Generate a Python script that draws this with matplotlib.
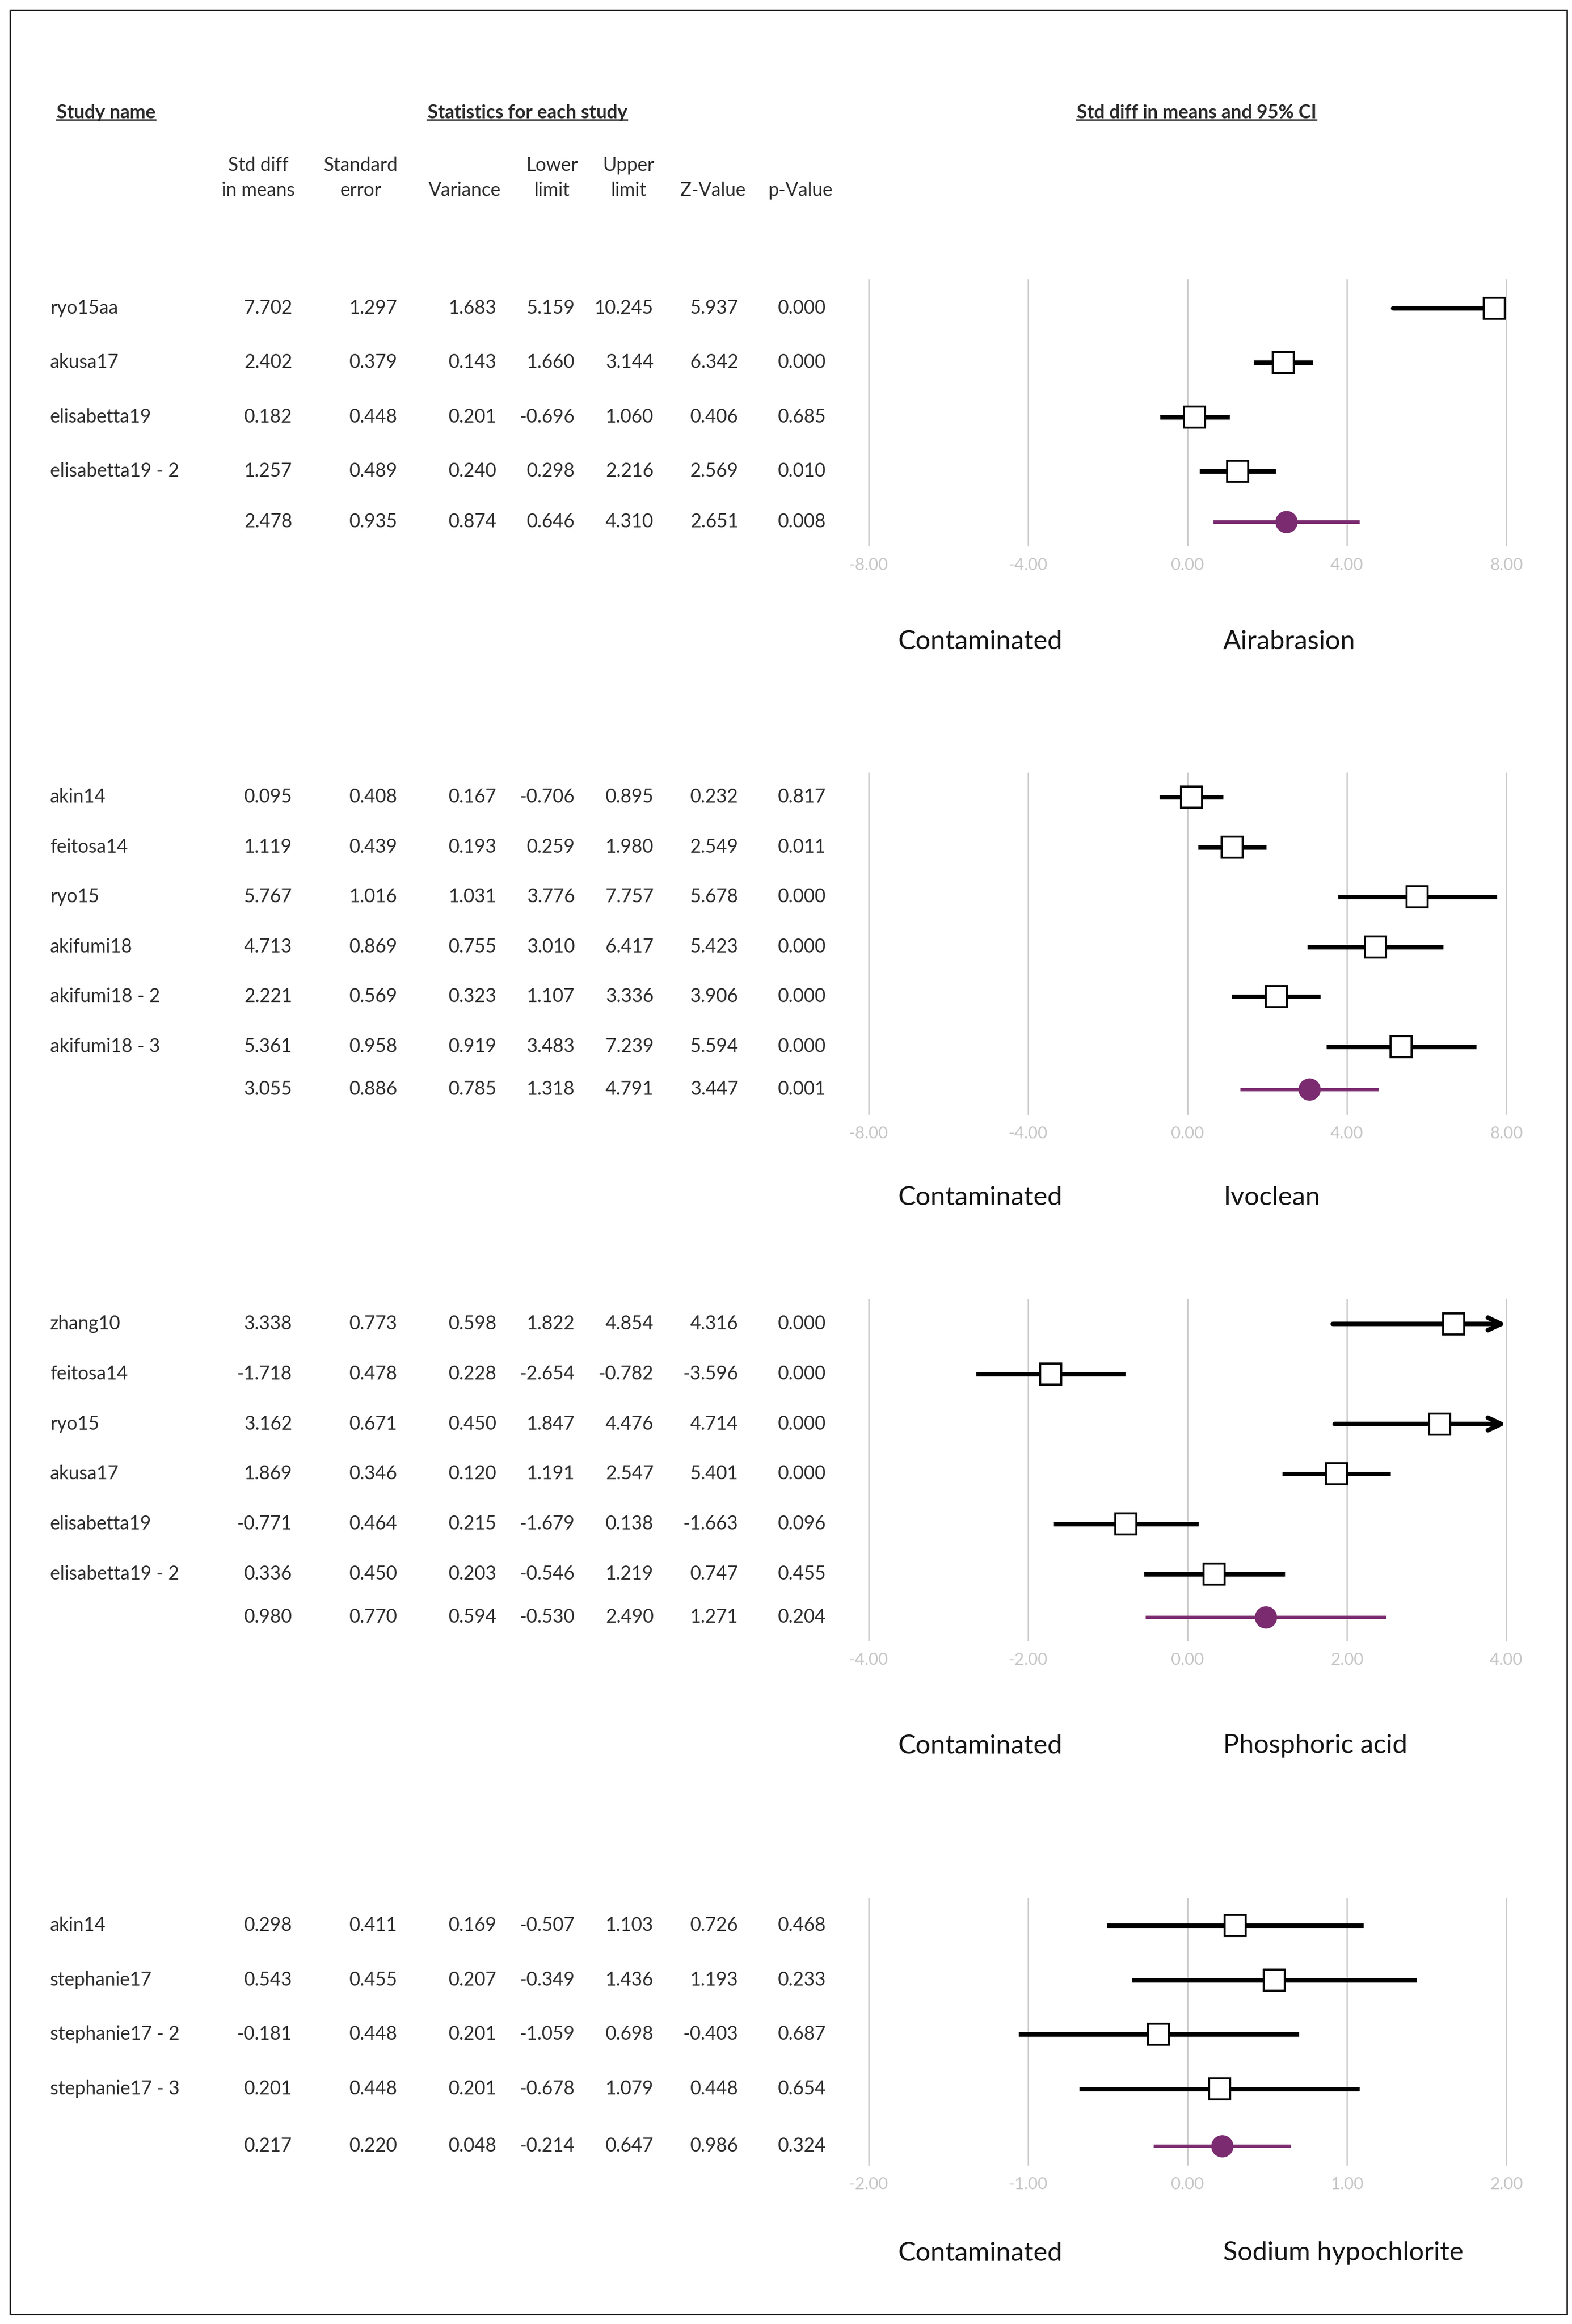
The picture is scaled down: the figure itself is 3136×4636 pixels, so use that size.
import numpy as np
import matplotlib
matplotlib.use("Agg")
import matplotlib.pyplot as plt
from matplotlib.lines import Line2D
from matplotlib.patches import Rectangle

plt.rcParams['font.family'] = ['Lato', 'DejaVu Sans']
plt.rcParams['axes.unicode_minus'] = False

# ---- data (last row of each stats table is the pooled estimate) ----
col_top = ["Std diff", "Standard", "", "Lower", "Upper", "", ""]
col_bottom = ["in means", "error", "Variance", "limit", "limit", "Z-Value", "p-Value"]

airab_names = ["ryo15aa", "akusa17", "elisabetta19", "elisabetta19 - 2"]
airab_stats = [
    [7.702, 1.297, 1.683, 5.159, 10.245, 5.937, 0.000],
    [2.402, 0.379, 0.143, 1.660, 3.144, 6.342, 0.000],
    [0.182, 0.448, 0.201, -0.696, 1.060, 0.406, 0.685],
    [1.257, 0.489, 0.240, 0.298, 2.216, 2.569, 0.010],
    [2.478, 0.935, 0.874, 0.646, 4.310, 2.651, 0.008],
]
airab_ticks = [-8, -4, 0, 4, 8]

ivo_names = ["akin14", "feitosa14", "ryo15", "akifumi18", "akifumi18 - 2", "akifumi18 - 3"]
ivo_stats = [
    [0.095, 0.408, 0.167, -0.706, 0.895, 0.232, 0.817],
    [1.119, 0.439, 0.193, 0.259, 1.980, 2.549, 0.011],
    [5.767, 1.016, 1.031, 3.776, 7.757, 5.678, 0.000],
    [4.713, 0.869, 0.755, 3.010, 6.417, 5.423, 0.000],
    [2.221, 0.569, 0.323, 1.107, 3.336, 3.906, 0.000],
    [5.361, 0.958, 0.919, 3.483, 7.239, 5.594, 0.000],
    [3.055, 0.886, 0.785, 1.318, 4.791, 3.447, 0.001],
]
ivo_ticks = [-8, -4, 0, 4, 8]

phos_names = ["zhang10", "feitosa14", "ryo15", "akusa17", "elisabetta19", "elisabetta19 - 2"]
phos_stats = [
    [3.338, 0.773, 0.598, 1.822, 4.854, 4.316, 0.000],
    [-1.718, 0.478, 0.228, -2.654, -0.782, -3.596, 0.000],
    [3.162, 0.671, 0.450, 1.847, 4.476, 4.714, 0.000],
    [1.869, 0.346, 0.120, 1.191, 2.547, 5.401, 0.000],
    [-0.771, 0.464, 0.215, -1.679, 0.138, -1.663, 0.096],
    [0.336, 0.450, 0.203, -0.546, 1.219, 0.747, 0.455],
    [0.980, 0.770, 0.594, -0.530, 2.490, 1.271, 0.204],
]
phos_ticks = [-4, -2, 0, 2, 4]

naocl_names = ["akin14", "stephanie17", "stephanie17 - 2", "stephanie17 - 3"]
naocl_stats = [
    [0.298, 0.411, 0.169, -0.507, 1.103, 0.726, 0.468],
    [0.543, 0.455, 0.207, -0.349, 1.436, 1.193, 0.233],
    [-0.181, 0.448, 0.201, -1.059, 0.698, -0.403, 0.687],
    [0.201, 0.448, 0.201, -0.678, 1.079, 0.448, 0.654],
    [0.217, 0.220, 0.048, -0.214, 0.647, 0.986, 0.324],
]
naocl_ticks = [-2, -1, 0, 1, 2]

# ---- layout (pixel positions in the 3136 x 4636 picture) ----
W, H, DPI = 3136, 4636, 100
PLOT_L, PLOT_R = 1733, 3005
name_x = 100
col_right = [583, 793, 991, 1147, 1304, 1473, 1648]
col_center = [515, 720, 927, 1101, 1254, 1422, 1597]

panels = [
    dict(names=airab_names, stats=airab_stats, ticks=airab_ticks, label="Airabrasion",
         row0=615, last=940, summ=1041, top=558, bottom=1088, lab_y=1280),
    dict(names=ivo_names, stats=ivo_stats, ticks=ivo_ticks, label="Ivoclean",
         row0=1590, last=2088, summ=2173, top=1542, bottom=2222, lab_y=2389),
    dict(names=phos_names, stats=phos_stats, ticks=phos_ticks, label="Phosphoric acid",
         row0=2641, last=3140, summ=3226, top=2592, bottom=3272, lab_y=3483),
    dict(names=naocl_names, stats=naocl_stats, ticks=naocl_ticks, label="Sodium hypochlorite",
         row0=3841, last=4167, summ=4281, top=3787, bottom=4318, lab_y=4495),
]

TXT = '#2e2e2e'
PURPLE = '#7b2b6f'
GRID = '#cbcbcb'
FS = 27
CI_LW = 6.5


def fx(px):
    return px / W


def fy(py):
    return 1 - py / H


fig = plt.figure(figsize=(W / DPI, H / DPI), dpi=DPI)
fig.patch.set_facecolor('white')

# headers
titles = [
    fig.text(fx(113), fy(225), "Study name", ha='left', va='center',
             fontsize=FS, fontweight='bold', color='#2a2a2a'),
    fig.text(fx(1052), fy(225), "Statistics for each study", ha='center', va='center',
             fontsize=FS, fontweight='bold', color='#2a2a2a'),
    fig.text(fx(2387), fy(225), "Std diff in means and 95% CI", ha='center', va='center',
             fontsize=FS, fontweight='bold', color='#2a2a2a'),
]
for j in range(len(col_bottom)):
    if col_top[j]:
        fig.text(fx(col_center[j]), fy(330), col_top[j], ha='center', va='center',
                 fontsize=FS, color=TXT)
    fig.text(fx(col_center[j]), fy(380), col_bottom[j], ha='center', va='center',
             fontsize=FS, color=TXT)

for p in panels:
    n = len(p['names'])
    step = (p['last'] - p['row0']) / (n - 1)
    stats = np.array(p['stats'])
    ys = np.arange(n, dtype=float)
    y_sum = (p['summ'] - p['row0']) / step
    y_top = (p['top'] - p['row0']) / step
    y_bot = (p['bottom'] - p['row0']) / step
    ax_h = (p['bottom'] - p['top']) / H

    ax = fig.add_axes([fx(PLOT_L), fy(p['bottom']), fx(PLOT_R) - fx(PLOT_L), ax_h])
    xmin, xmax = p['ticks'][0], p['ticks'][-1]
    ax.set_xlim(xmin, xmax)
    ax.set_ylim(y_bot, y_top)
    for s in ax.spines.values():
        s.set_visible(False)
    ax.set_yticks([])
    ax.set_xticks(p['ticks'])
    ax.set_xticklabels([f"{t:.2f}" for t in p['ticks']])
    ax.tick_params(axis='x', length=0, pad=18, labelsize=24, labelcolor='#c6c6c6')
    ax.grid(axis='x', color=GRID, lw=2)
    for gl in ax.get_xgridlines():
        gl.set_clip_on(False)
    ax.set_axisbelow(True)

    est, lo, hi = stats[:n, 0], stats[:n, 3], stats[:n, 4]
    for y, e, l, h in zip(ys, est, lo, hi):
        if h > xmax:
            # interval runs past the axis: draw it as an arrow ending at the edge
            ax.annotate('', xy=(xmax, y), xytext=(l, y), annotation_clip=False,
                        arrowprops=dict(arrowstyle='->,head_length=0.95,head_width=0.45',
                                        mutation_scale=20, lw=CI_LW, color='black',
                                        shrinkA=0, shrinkB=0), zorder=2)
        else:
            ax.plot([l, h], [y, y], color='black', lw=CI_LW, solid_capstyle='butt', zorder=2)
    ax.plot(est, ys, ls='none', marker='s', ms=30, mfc='white', mec='black', mew=3, zorder=3)

    s_est, s_lo, s_hi = stats[n, 0], stats[n, 3], stats[n, 4]
    ax.plot([s_lo, s_hi], [y_sum, y_sum], color=PURPLE, lw=5, solid_capstyle='butt', zorder=2)
    ax.plot([s_est], [y_sum], ls='none', marker='o', ms=31, mfc=PURPLE, mec=PURPLE, zorder=3)

    # table on the left, sharing the row positions
    tab = fig.add_axes([0, fy(p['bottom']), fx(PLOT_L), ax_h], sharey=ax)
    tab.set_xlim(0, PLOT_L)
    tab.axis('off')
    row_y = list(ys) + [y_sum]
    for i, y in enumerate(row_y):
        if i < n:
            tab.text(name_x, y, p['names'][i], ha='left', va='center', fontsize=FS, color=TXT)
        for j in range(stats.shape[1]):
            tab.text(col_right[j], y, f"{stats[i, j]:.3f}", ha='right', va='center',
                     fontsize=FS, color=TXT)

    fig.text(fx(1791), fy(p['lab_y']), "Contaminated", ha='left', va='center',
             fontsize=38, color='#151515')
    fig.text(fx(2440), fy(p['lab_y']), p['label'], ha='left', va='center',
             fontsize=38, color='#151515')

# underline the bold headers
fig.canvas.draw()
renderer = fig.canvas.get_renderer()
for t in titles:
    bb = t.get_window_extent(renderer)
    yline = (bb.y0 + 2) / H
    fig.add_artist(Line2D([bb.x0 / W, bb.x1 / W], [yline, yline], lw=3, color='#555555',
                          transform=fig.transFigure))

# outer frame
fig.add_artist(Rectangle((fx(20), fy(4617)), fx(3126) - fx(20), (4617 - 20) / H,
                         fill=False, lw=2.2, ec='#222222', transform=fig.transFigure))

fig.savefig("out.png", dpi=DPI, facecolor='white')
